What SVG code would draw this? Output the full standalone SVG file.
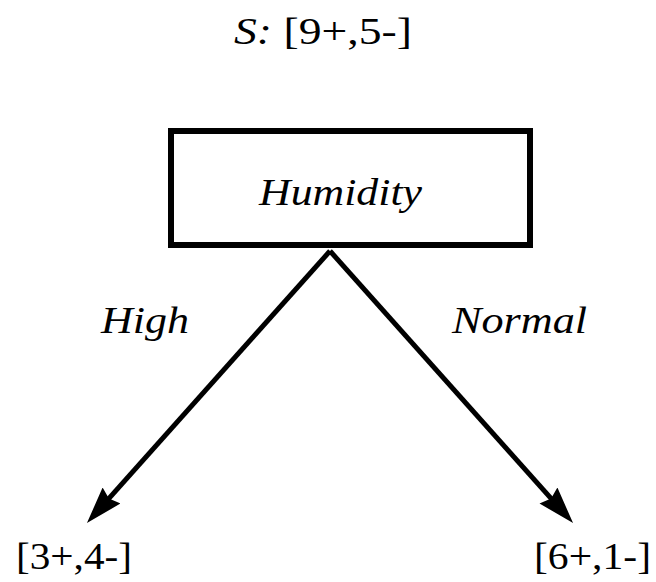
<svg xmlns="http://www.w3.org/2000/svg" width="656" height="582" viewBox="0 0 656 582">
<style>
.t{font-family:"Liberation Serif","Times New Roman",serif;fill:#000}
.i{font-style:italic}
.lbl{font-size:38px;font-style:italic}
.leaf{font-size:38px}
.edge{stroke:#000;stroke-width:5;fill:none}
</style>
<defs>
<marker id="ah" viewBox="0 0 14 9.1" refX="6.4" refY="4.55" markerWidth="7.4" markerHeight="4.8" orient="auto" markerUnits="strokeWidth">
<path d="M0,0 L14,4.55 L0,9.1 L1.5,4.55 Z" fill="#000"/>
</marker>
</defs>
<g id="root-label">
<text class="t" x="234" y="44" font-size="38" textLength="178" lengthAdjust="spacingAndGlyphs"><tspan class="i">S:</tspan> [9+,5-]</text>
</g>
<g id="humidity">
<rect x="171" y="131" width="359" height="114" fill="#fff" stroke="#000" stroke-width="6"/>
<text class="t lbl" x="259" y="205" textLength="163" lengthAdjust="spacingAndGlyphs">Humidity</text>
</g>
<g id="connectors">
<line class="edge" x1="330" y1="251" x2="100.3" y2="508.1" marker-end="url(#ah)"/>
<line class="edge" x1="330" y1="251" x2="559.7" y2="508.1" marker-end="url(#ah)"/>
<text class="t lbl" x="101" y="333" textLength="88" lengthAdjust="spacingAndGlyphs">High</text>
<text class="t lbl" x="452" y="333" textLength="135" lengthAdjust="spacingAndGlyphs">Normal</text>
</g>
<g id="leaf-high">
<text class="t leaf" x="16" y="569" textLength="116" lengthAdjust="spacingAndGlyphs">[3+,4-]</text>
</g>
<g id="leaf-normal">
<text class="t leaf" x="534" y="569" textLength="117" lengthAdjust="spacingAndGlyphs">[6+,1-]</text>
</g>
</svg>
